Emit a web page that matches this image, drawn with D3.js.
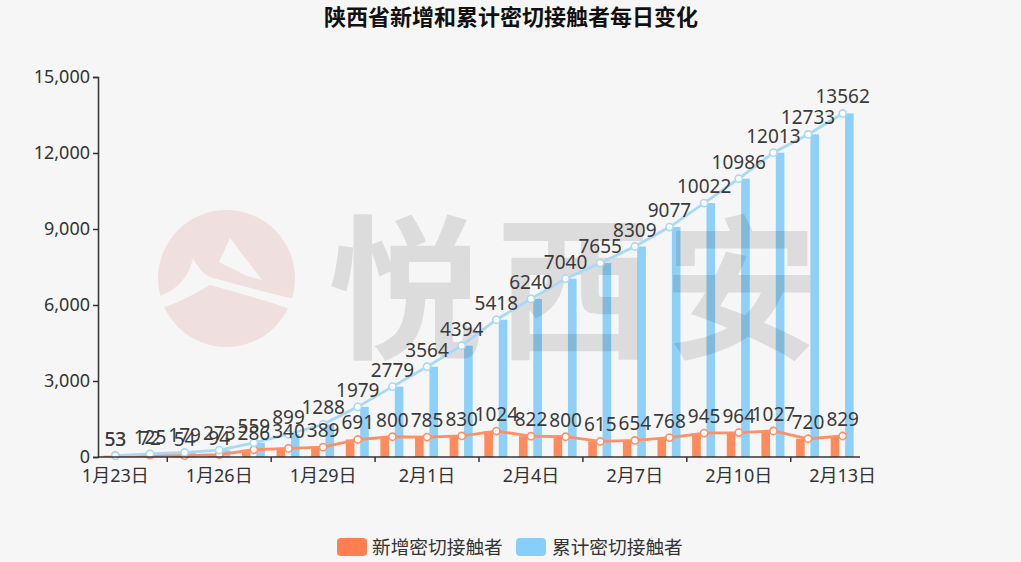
<!DOCTYPE html>
<html><head><meta charset="utf-8">
<script src="https://cdn.jsdelivr.net/npm/d3@7"></script>
<style>
html,body{margin:0;padding:0;background:#f6f6f6;}
svg{display:block;font-family:"Noto Sans","Noto Sans CJK SC",sans-serif;}
</style></head><body>
<svg id="c" width="1021" height="562"></svg>
<script>
const dates = ["1月23日","1月24日","1月25日","1月26日","1月27日","1月28日","1月29日","1月30日","1月31日","2月1日","2月2日","2月3日","2月4日","2月5日","2月6日","2月7日","2月8日","2月9日","2月10日","2月11日","2月12日","2月13日"];
const newContacts = [53,72,54,94,286,340,389,691,800,785,830,1024,822,800,615,654,768,945,964,1027,720,829];
const totalContacts = [53,125,179,273,559,899,1288,1979,2779,3564,4394,5418,6240,7040,7655,8309,9077,10022,10986,12013,12733,13562];
const seriesNames = ["新增密切接触者","累计密切接触者"];
const yTicks = [0,3000,6000,9000,12000,15000];
const title = "陕西省新增和累计密切接触者每日变化";
const watermark = "悦西安";

const barColors = ["#ff8a5c","#8fd0f8"];
const lineColors = ["#ff8f66","#a6daf8"];
const legendColors = ["#ff7f50","#87cefa"];

const svg = d3.select("#c");
const W = 1021, H = 562;
svg.append("rect").attr("width",W).attr("height",H).attr("fill","#f6f6f6");

const x = d3.scaleBand().domain(dates).range([98,860]).padding(0);
const y = d3.scaleLinear().domain([0,15000]).range([457,77]);
const sub = d3.scaleBand().domain(seriesNames).range([-12,11]).paddingInner(0.4).paddingOuter(0);
const cx = d => x(d) + x.bandwidth()/2;

// title
svg.append("text").attr("x",511).attr("y",25).attr("text-anchor","middle")
  .attr("font-family","'Noto Sans CJK SC',sans-serif")
  .attr("font-size",22).attr("font-weight","bold").attr("fill","#111").text(title);

// bars
const seriesData = [newContacts,totalContacts];
seriesData.forEach((vals,si)=>{
  svg.append("g").selectAll("rect").data(vals).join("rect")
    .attr("x",(v,i)=>cx(dates[i]) + sub(seriesNames[si]))
    .attr("width",sub.bandwidth())
    .attr("y",v=>y(v))
    .attr("height",v=>y(0)-y(v))
    .attr("fill",barColors[si]);
});

// watermark (logo + text)
const wm = svg.append("g").attr("pointer-events","none");
wm.append("circle").attr("cx",226.5).attr("cy",278.5).attr("r",68.5).attr("fill","#e8c4c4").attr("opacity",0.45);
wm.append("path").attr("d","M230,238 L262,280 L247,276 L219,262 Z").attr("fill","#f6f6f6");
wm.append("path").attr("d","M193,258 C188,280 175,290 160,296 L162,308 C185,300 200,291 210,285 C235,292 265,300 300,312 L300,300 C270,294 240,285 213,278 C205,276 198,268 193,258 Z").attr("fill","#f6f6f6");
wm.append("text").attr("x",328).attr("y",346).attr("text-anchor","start")
  .attr("font-family","'Noto Sans CJK SC',sans-serif")
  .attr("font-size",155).attr("font-weight","bold").attr("letter-spacing",13)
  .attr("fill","#000").attr("opacity",0.1).text(watermark);

// lines
seriesData.forEach((vals,si)=>{
  const line = d3.line().x((v,i)=>cx(dates[i])).y(v=>y(v));
  svg.append("path").datum(vals).attr("d",line).attr("fill","none")
    .attr("stroke",lineColors[si]).attr("stroke-width",2.8);
});
seriesData.forEach((vals,si)=>{
  svg.append("g").selectAll("circle").data(vals).join("circle")
    .attr("cx",(v,i)=>cx(dates[i])).attr("cy",v=>y(v)).attr("r",3.6)
    .attr("fill","#fff").attr("stroke",lineColors[si]).attr("stroke-width",1.6);
});

// axes
const axisColor = "#333";
const yAxis = d3.axisLeft(y).tickValues(yTicks).tickFormat(d3.format(",")).tickSizeOuter(0).tickSize(5).tickPadding(3);
const gy = svg.append("g").attr("transform","translate(98,0)").call(yAxis);
gy.select(".domain").attr("stroke",axisColor).attr("stroke-width",1.5);
gy.selectAll(".tick line").attr("stroke",axisColor).attr("stroke-width",1.5);
gy.selectAll(".tick text").attr("font-size",18).attr("fill","#333").attr("font-family","'Noto Sans','Noto Sans CJK SC',sans-serif");

const gx = svg.append("g").attr("transform","translate(0,457)");
gx.append("line").attr("x1",98).attr("x2",860).attr("stroke",axisColor).attr("stroke-width",1.5);
const tickIdx = d3.range(2,21,3);
gx.selectAll("line.t").data(tickIdx).join("line").attr("class","t")
  .attr("x1",i=>x(dates[i])).attr("x2",i=>x(dates[i])).attr("y1",0).attr("y2",5)
  .attr("stroke",axisColor).attr("stroke-width",1.5);
const labIdx = d3.range(0,22,3);
gx.selectAll("text").data(labIdx).join("text")
  .attr("x",i=>cx(dates[i])).attr("y",25).attr("text-anchor","middle")
  .attr("font-size",18).attr("fill","#333").text(i=>dates[i]);

// data labels
seriesData.forEach((vals,si)=>{
  svg.append("g").selectAll("text").data(vals).join("text")
    .attr("x",(v,i)=>cx(dates[i])).attr("y",v=>y(v)-10)
    .attr("text-anchor","middle").attr("font-size",19).attr("fill","#3a3a3a").text(v=>v);
});

// legend
const legend = svg.append("g");
const lg = [{x:337,tx:372},{x:516,tx:552}];
seriesNames.forEach((n,i)=>{
  legend.append("rect").attr("x",lg[i].x).attr("y",538).attr("width",30).attr("height",18).attr("rx",4)
    .attr("fill",legendColors[i]);
  legend.append("text").attr("x",lg[i].tx).attr("y",553.5).attr("font-size",18.7).attr("fill","#333").text(n);
});
</script>
</body></html>
